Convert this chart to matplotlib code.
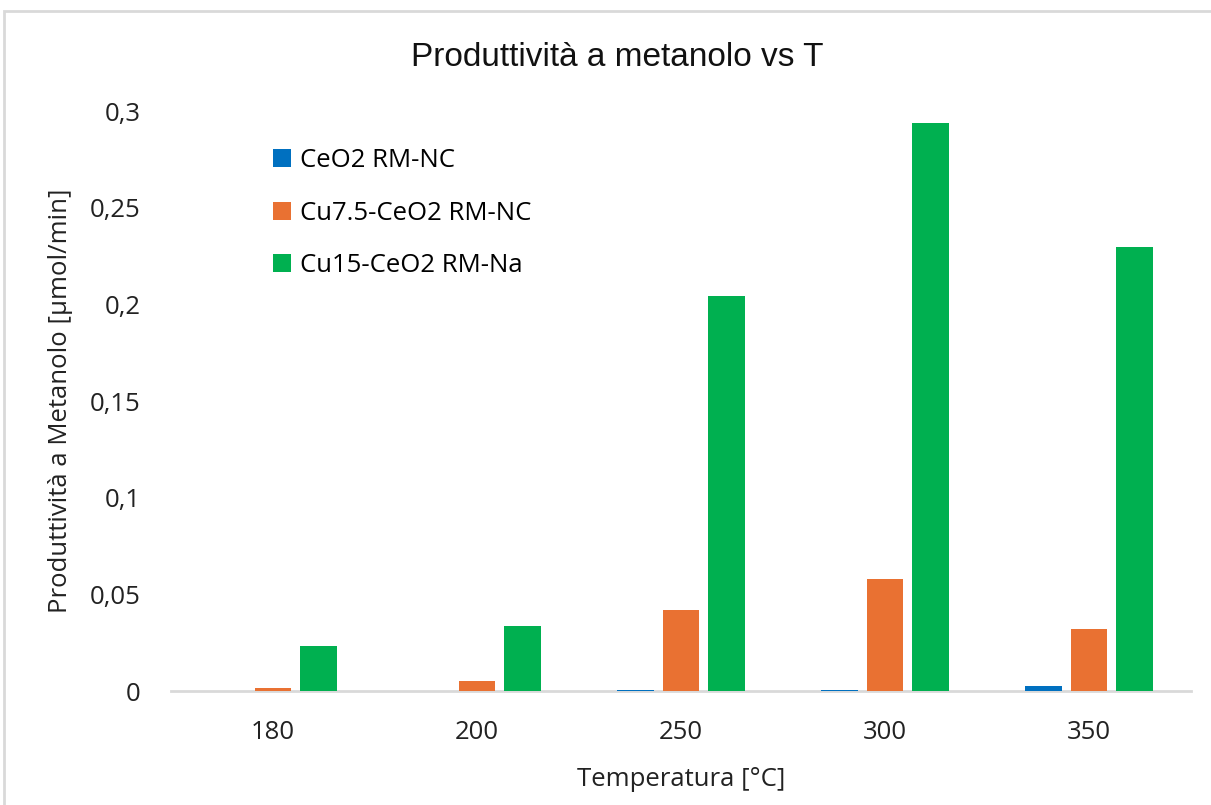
import matplotlib.pyplot as plt
import matplotlib.patches as patches
import numpy as np

# Temperature categories and methanol productivity per catalyst
temperatures = ['180', '200', '250', '300', '350']
series_names = ['CeO2 RM-NC', 'Cu7.5-CeO2 RM-NC', 'Cu15-CeO2 RM-Na']
ceo2_nc = [0.0, 0.0, 0.0007, 0.0007, 0.0026]
cu75_nc = [0.0015, 0.0054, 0.0420, 0.0578, 0.0320]
cu15_na = [0.0234, 0.0337, 0.2043, 0.2938, 0.2297]
colors = ['#0070C0', '#E97132', '#00B050']

y_ticks = [0, 0.05, 0.1, 0.15, 0.2, 0.25, 0.3]
y_tick_labels = ['0', '0,05', '0,1', '0,15', '0,2', '0,25', '0,3']

plt.rcParams['font.family'] = ['Open Sans', 'DejaVu Sans']
text_color = '#222222'

fig = plt.figure(figsize=(12.11, 8.05), dpi=100)
ax = fig.add_axes([171 / 1211, 1 - 691 / 805, 1020 / 1211, 580 / 805])

x = np.arange(len(temperatures))
width = 0.18
step = 0.223
for i, (vals, name, c) in enumerate(zip([ceo2_nc, cu75_nc, cu15_na], series_names, colors)):
    ax.bar(x + (i - 1) * step, vals, width, color=c, label=name,
           edgecolor='none', zorder=3)

ax.set_xlim(-0.5, len(temperatures) - 0.5)
ax.set_ylim(0, 0.3)
ax.set_xticks(x)
ax.set_xticklabels(temperatures, fontsize=18.5, color=text_color)
ax.set_yticks(y_ticks)
ax.set_yticklabels(y_tick_labels, fontsize=18.5, color=text_color)
ax.tick_params(axis='both', length=0)
ax.tick_params(axis='y', pad=22)
ax.tick_params(axis='x', pad=21)

for side in ['top', 'right', 'left']:
    ax.spines[side].set_visible(False)
ax.spines['bottom'].set_color('#d9d9d9')
ax.spines['bottom'].set_linewidth(2)
ax.spines['bottom'].set_zorder(2)

ax.set_xlabel('Temperatura [°C]', fontsize=18.5, color=text_color, labelpad=16)
ax.set_ylabel('Produttività a Metanolo [µmol/min]', fontsize=18.5, color=text_color, labelpad=12)

fig.text(617 / 1211, 1 - 57 / 805, 'Produttività a metanolo vs T', ha='center', va='center',
         fontsize=24, color='#111111', family=['Liberation Sans', 'DejaVu Sans'])

ax.legend(loc='upper left', bbox_to_anchor=(0.09, 0.954), frameon=False, fontsize=18.5,
          handlelength=0.7, handleheight=0.7, handletextpad=0.35, labelspacing=1.08,
          borderaxespad=0)

# Chart frame
fig.patches.append(patches.Rectangle((4 / 1211, -0.1), 2, 1.1 - 11 / 805,
                                     transform=fig.transFigure, fill=False,
                                     edgecolor='#d9d9d9', linewidth=2))

fig.savefig('out.png', dpi=100)
